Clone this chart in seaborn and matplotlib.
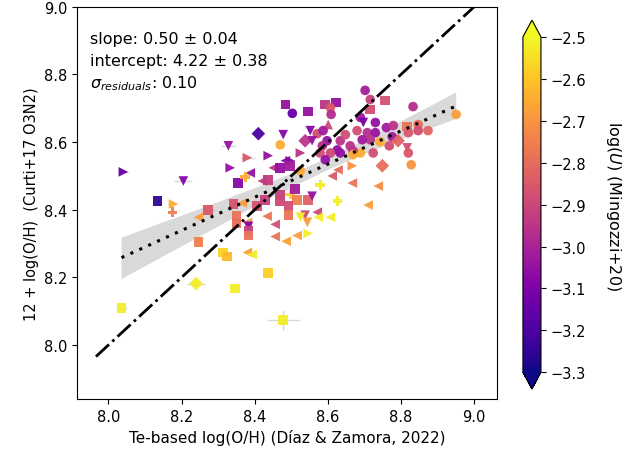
import numpy as np
import pandas as pd
import matplotlib
matplotlib.use("Agg")
import matplotlib.pyplot as plt
import seaborn as sns
from matplotlib.colors import Normalize
from matplotlib.cm import ScalarMappable

# Te-based log(O/H)
oh_te = [8.702, 8.716, 8.757, 8.484, 8.546, 8.593, 8.623, 8.607, 8.609, 8.503,
         8.833, 8.716, 8.689, 8.601, 8.410, 8.478, 8.552, 8.470, 8.328, 8.697,
         8.730, 8.760, 8.779, 8.817, 8.847, 8.874, 8.847, 8.820, 8.680, 8.708,
         8.730, 8.776, 8.792, 8.743, 8.716, 8.694, 8.768, 8.817, 8.724, 8.689,
         8.820, 8.669, 8.828, 8.749, 8.667, 8.951, 8.571, 8.587, 8.538, 8.557,
         8.598, 8.585, 8.634, 8.648, 8.626, 8.661, 8.525, 8.579, 8.607, 8.634,
         8.437, 8.380, 8.484, 8.497, 8.593, 8.669, 8.451, 8.470, 8.497, 8.525,
         8.388, 8.628, 8.612, 8.738, 8.579, 8.205, 8.041, 8.355, 8.374, 8.421,
         8.437, 8.667, 8.710, 8.134, 8.178, 8.175, 8.273, 8.342, 8.366, 8.407,
         8.429, 8.470, 8.470, 8.497, 8.511, 8.516, 8.546, 8.557, 8.492, 8.492,
         8.538, 8.571, 8.544, 8.525, 8.574, 8.607, 8.626, 8.434, 8.456, 8.456,
         8.486, 8.516, 8.546, 8.246, 8.350, 8.350, 8.380, 8.383, 8.383, 8.383,
         8.246, 8.314, 8.325, 8.380, 8.393, 8.437, 8.240, 8.347, 8.036, 8.478,
         8.333]
# Curti+17 O3N2 12+log(O/H)
oh_o3n2 = [8.753, 8.726, 8.723, 8.711, 8.690, 8.711, 8.717, 8.702, 8.682, 8.685,
           8.705, 8.696, 8.673, 8.652, 8.625, 8.622, 8.634, 8.592, 8.589, 8.658,
           8.658, 8.643, 8.649, 8.646, 8.652, 8.634, 8.634, 8.628, 8.634, 8.628,
           8.628, 8.616, 8.604, 8.601, 8.607, 8.607, 8.589, 8.583, 8.568, 8.568,
           8.568, 8.574, 8.533, 8.530, 8.530, 8.682, 8.625, 8.634, 8.604, 8.604,
           8.604, 8.589, 8.604, 8.622, 8.577, 8.589, 8.568, 8.568, 8.568, 8.568,
           8.560, 8.554, 8.545, 8.545, 8.548, 8.563, 8.524, 8.524, 8.530, 8.515,
           8.509, 8.518, 8.500, 8.470, 8.473, 8.485, 8.512, 8.479, 8.497, 8.485,
           8.488, 8.479, 8.414, 8.426, 8.417, 8.393, 8.399, 8.417, 8.420, 8.411,
           8.429, 8.443, 8.426, 8.446, 8.461, 8.429, 8.429, 8.440, 8.411, 8.384,
           8.384, 8.393, 8.363, 8.378, 8.378, 8.378, 8.426, 8.381, 8.357, 8.321,
           8.307, 8.324, 8.330, 8.378, 8.381, 8.360, 8.363, 8.351, 8.339, 8.324,
           8.304, 8.274, 8.262, 8.274, 8.268, 8.214, 8.182, 8.167, 8.110, 8.074,
           8.524]
# log(U) (Mingozzi+20)
log_u = [-3.02, -2.92, -2.87, -3.05, -3.05, -2.95, -3.05, -2.85, -2.97, -3.15,
         -2.97, -2.88, -3.03, -2.90, -3.20, -3.08, -3.08, -2.65, -3.05, -3.10,
         -3.05, -3.02, -2.95, -2.78, -2.80, -2.82, -2.88, -2.85, -2.88, -2.97,
         -3.05, -3.02, -2.82, -2.65, -2.95, -3.02, -2.88, -2.88, -2.88, -2.65,
         -2.85, -2.97, -2.70, -2.80, -2.70, -2.68, -2.88, -3.02, -2.95, -3.05,
         -3.05, -2.97, -2.95, -2.88, -3.05, -2.95, -2.95, -2.88, -2.90, -3.05,
         -3.05, -2.85, -3.08, -3.08, -3.05, -2.65, -2.95, -3.05, -3.02, -2.65,
         -3.05, -2.80, -2.85, -2.72, -2.52, -3.08, -3.15, -3.08, -2.65, -2.93,
         -2.93, -2.78, -2.68, -3.25, -2.65, -2.75, -2.85, -2.87, -2.68, -2.87,
         -2.92, -2.92, -2.90, -2.58, -3.02, -2.75, -2.83, -3.05, -2.88, -2.78,
         -2.90, -2.90, -2.68, -2.53, -2.52, -2.52, -2.52, -2.78, -2.88, -2.78,
         -2.68, -2.68, -2.52, -2.68, -2.78, -2.80, -2.68, -3.08, -2.92, -2.78,
         -2.75, -2.57, -2.62, -2.68, -2.52, -2.58, -2.52, -2.52, -2.52, -2.52,
         -3.05]
# sample / marker category
sample = ['o', 'o', 's', 's', 's', 's', 's', 'o', 'o', 'o',
          'o', 's', 'o', '^', 'D', 'v', 'v', 'o', 'v', 'v',
          'o', 'o', 'o', 's', 'o', 'o', 'o', 'o', 'o', 'o',
          'o', 'o', 'D', 'o', 'o', 'o', 'o', 'v', 'o', 'o',
          'o', 'o', 'o', 'D', '>', 'o', 'o', 'o', 'D', 'v',
          'o', 'o', 'o', 'o', 'o', 'o', '>', 'o', 'o', 'o',
          '>', '>', '<', '>', 'o', 'o', '<', 's', 's', 'o',
          '<', '<', '<', '<', 'P', 'v', '>', 's', 'P', '<',
          's', '<', '<', 's', '>', 'P', 's', 's', '<', 's',
          's', 's', 's', 'P', 's', 's', 's', 'v', 's', 's',
          'v', '<', 'v', 'v', '<', '<', 'P', '<', '<', '<',
          '<', '<', '>', '<', 's', 's', '<', 'v', 's', 's',
          's', 's', 's', '<', '<', 's', 'D', 's', 's', 's',
          '>']

# visible error bars (index, xerr, yerr)
err_idx = [129, 128, 126, 75, 76, 18, 61, 86]
err_x = [0.045, 0.015, 0.025, 0.025, 0.015, 0.02, 0.02, 0.015]
err_y = [0.030, 0.0, 0.0, 0.0, 0.0, 0.0, 0.0, 0.0]

fit_text = ["slope: 0.50 ± 0.04",
            "intercept: 4.22 ± 0.38",
            "$\\sigma_{residuals}$: 0.10"]

df = pd.DataFrame({"te": oh_te, "o3n2": oh_o3n2, "logU": log_u, "sample": sample})

fig = plt.figure(figsize=(6.44, 4.60), dpi=100)
ax = fig.add_axes([0.120, 0.130, 0.652, 0.853])
cax = fig.add_axes([0.812, 0.152, 0.028, 0.802])

# faint error bars
ax.errorbar([oh_te[i] for i in err_idx], [oh_o3n2[i] for i in err_idx],
            xerr=err_x, yerr=err_y, fmt='none', ecolor='#d8d8d8', elinewidth=1, zorder=1)

# 1:1 line
ax.plot([7.966, 9.02], [7.966, 9.02], color='black', linestyle='-.', linewidth=2, zorder=4)

# regression with confidence band
sns.regplot(data=df, x="te", y="o3n2", scatter=False, ax=ax, color='black', ci=95,
            truncate=True, n_boot=1000, seed=1,
            line_kws=dict(linestyle=(0, (1, 2.2)), linewidth=2.2, zorder=5))

norm = Normalize(vmin=-3.3, vmax=-2.5)
markers = {m: m for m in ['o', 's', '^', 'v', '<', '>', 'D', 'P']}
sns.scatterplot(data=df, x="te", y="o3n2", hue="logU", palette="plasma", hue_norm=norm,
                style="sample", markers=markers, s=48, linewidth=0, alpha=0.95,
                legend=False, ax=ax, zorder=3)

ax.set_xlim(7.915, 9.063)
ax.set_ylim(7.84, 9.0)
ax.set_xticks([8.0, 8.2, 8.4, 8.6, 8.8, 9.0])
ax.set_yticks([8.0, 8.2, 8.4, 8.6, 8.8, 9.0])
ax.tick_params(labelsize=10.5)
ax.set_xlabel("Te-based log(O/H) (Díaz & Zamora, 2022)", fontsize=11)
ax.set_ylabel("12 + log(O/H)  (Curti+17 O3N2)", fontsize=10.5)

for t, yy in zip(fit_text, [0.918, 0.862, 0.806]):
    ax.text(0.031, yy, t, transform=ax.transAxes, fontsize=11.5, va='center', ha='left')

sm = ScalarMappable(norm=norm, cmap='plasma')
cb = fig.colorbar(sm, cax=cax, extend='both')
cb.set_ticks([-2.5, -2.6, -2.7, -2.8, -2.9, -3.0, -3.1, -3.2, -3.3])
cb.ax.tick_params(labelsize=10.5)
cb.set_label("log($U$) (Mingozzi+20)", rotation=270, labelpad=26, fontsize=11.5)

fig.savefig("out.png", dpi=100)
